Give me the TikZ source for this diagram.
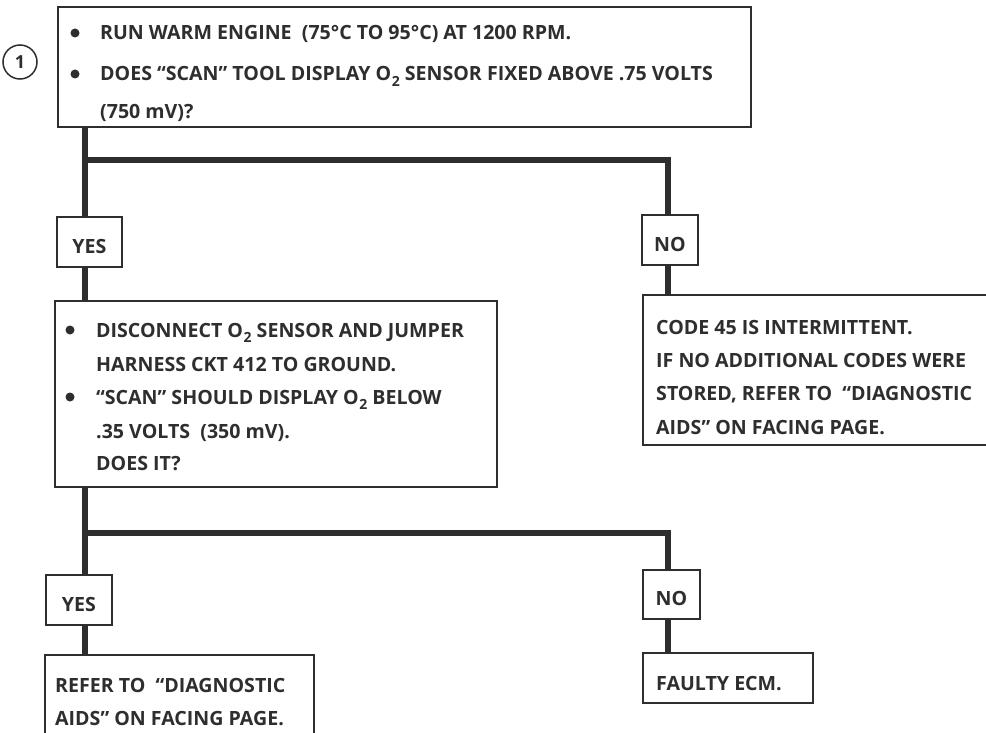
\documentclass[tikz,border=0pt]{standalone}
\usepackage{fontspec}
\setmainfont{Open Sans}
\usetikzlibrary{calc}
\definecolor{ink}{HTML}{2E2E2E}
\newcommand\fsz{\fontsize{19.6}{19.6}\selectfont}
\newcommand\Otwo{O\kern0.6pt\raisebox{-0.28em}{\fontsize{14}{14}\selectfont 2}}
\begin{document}
\begin{tikzpicture}[x=1pt,y=-1pt,
  box/.style={draw=ink, line width=1.8pt, fill=white, anchor=north west, inner sep=0pt, outer sep=0pt},
  lbl/.style={draw=ink, line width=1.8pt, fill=white, anchor=north west, inner sep=0pt, outer sep=0pt},
  lbltxt/.style={inner sep=0pt, font=\fsz\bfseries, text=ink},
  txt/.style={anchor=base west, inner sep=0pt, font=\fsz\bfseries, text=ink},
  bul/.style={anchor=center, inner sep=0pt, fill=ink, circle, minimum size=9pt},
  conn/.style={draw=ink, line width=6.5pt, line join=miter}]
\useasboundingbox (0,0) rectangle (986,733);
\fill[white] (0,0) rectangle (986,733);
\clip (0,0) rectangle (986,733);

% junction coordinates
\coordinate (j1) at (85,160);
\coordinate (k1) at (668,160);
\coordinate (j2) at (85,533);
\coordinate (k2) at (668,533);

% boxes
\node[box, minimum width=693pt, minimum height=120pt] (q1) at (58,7) {};
\node[lbl, minimum width=65pt, minimum height=50pt] (yes1) at (57,217) {};
\node[lbl, minimum width=56pt, minimum height=50pt] (no1) at (642,215) {};
\node[box, minimum width=442pt, minimum height=186pt] (q2) at (55,301) {};
\node[box, minimum width=360pt, minimum height=150pt] (r1) at (643,295) {};
\node[lbl, minimum width=66pt, minimum height=50pt] (yes2) at (46,575) {};
\node[lbl, minimum width=57pt, minimum height=49pt] (no2) at (643,570) {};
\node[box, minimum width=269pt, minimum height=110pt] (r2) at (45,655) {};
\node[box, minimum width=170pt, minimum height=50pt] (r3) at (643,653) {};

% connectors
\draw[conn] (q1.south -| j1) -- (j1) -- (yes1.north -| j1);
\draw[conn] (j1) -- (k1) -- (no1.north -| k1);
\draw[conn] (yes1.south -| j1) -- (q2.north -| j1);
\draw[conn] (no1.south -| k1) -- (r1.north -| k1);
\draw[conn] (q2.south -| j2) -- (j2) -- (yes2.north -| j2);
\draw[conn] (j2) -- (k2) -- (no2.north -| k2);
\draw[conn] (yes2.south -| j2) -- (r2.north -| j2);
\draw[conn] (no2.south -| k2) -- (r3.north -| k2);

% step circle
\node[draw=ink, line width=1.5pt, circle, minimum size=34pt, inner sep=0pt, font=\fontsize{18}{18}\selectfont\bfseries, text=ink] (c1) at (20,62) {1};

% label texts
\node[lbltxt] (yes1t) at ($(yes1.center)+(0,4)$) {YES};
\node[lbltxt] (no1t) at ($(no1.center)+(0,4)$) {NO};
\node[lbltxt] (yes2t) at ($(yes2.center)+(0,4)$) {YES};
\node[lbltxt] (no2t) at ($(no2.center)+(0,4)$) {NO};

% top box text
\node[bul] (b1) at (75,33) {};
\node[bul] (b2) at (75,74) {};
\node[txt] (t1) at (100,40) {RUN WARM ENGINE \ (75°C TO 95°C) AT 1200 RPM.};
\node[txt] (t2) at (100,81) {DOES “SCAN” TOOL DISPLAY \Otwo{} SENSOR FIXED ABOVE .75 VOLTS};
\node[txt] (t3) at (100,119) {(750 mV)?};

% second box text
\node[bul] (b3) at (70,330) {};
\node[bul] (b4) at (70,397) {};
\node[txt] (s1) at (96,337) {DISCONNECT \Otwo{} SENSOR AND JUMPER};
\node[txt] (s2) at (96,371) {HARNESS CKT 412 TO GROUND.};
\node[txt] (s3) at (96,404) {“SCAN” SHOULD DISPLAY \Otwo{} BELOW};
\node[txt] (s4) at (96,438) {.35 VOLTS \ (350 mV).};
\node[txt] (s5) at (96,470) {DOES IT?};

% right box text
\node[txt] (u1) at (656,334) {CODE 45 IS INTERMITTENT.};
\node[txt] (u2) at (656,367) {IF NO ADDITIONAL CODES WERE};
\node[txt] (u3) at (656,400) {STORED, REFER TO \ “DIAGNOSTIC};
\node[txt] (u4) at (656,434) {AIDS” ON FACING PAGE.};

% bottom boxes text
\node[txt] (v1) at (55,692) {REFER TO \ “DIAGNOSTIC};
\node[txt] (v2) at (55,725) {AIDS” ON FACING PAGE.};
\node[txt] (w1) at (656,690) {FAULTY ECM.};
\end{tikzpicture}
\end{document}
